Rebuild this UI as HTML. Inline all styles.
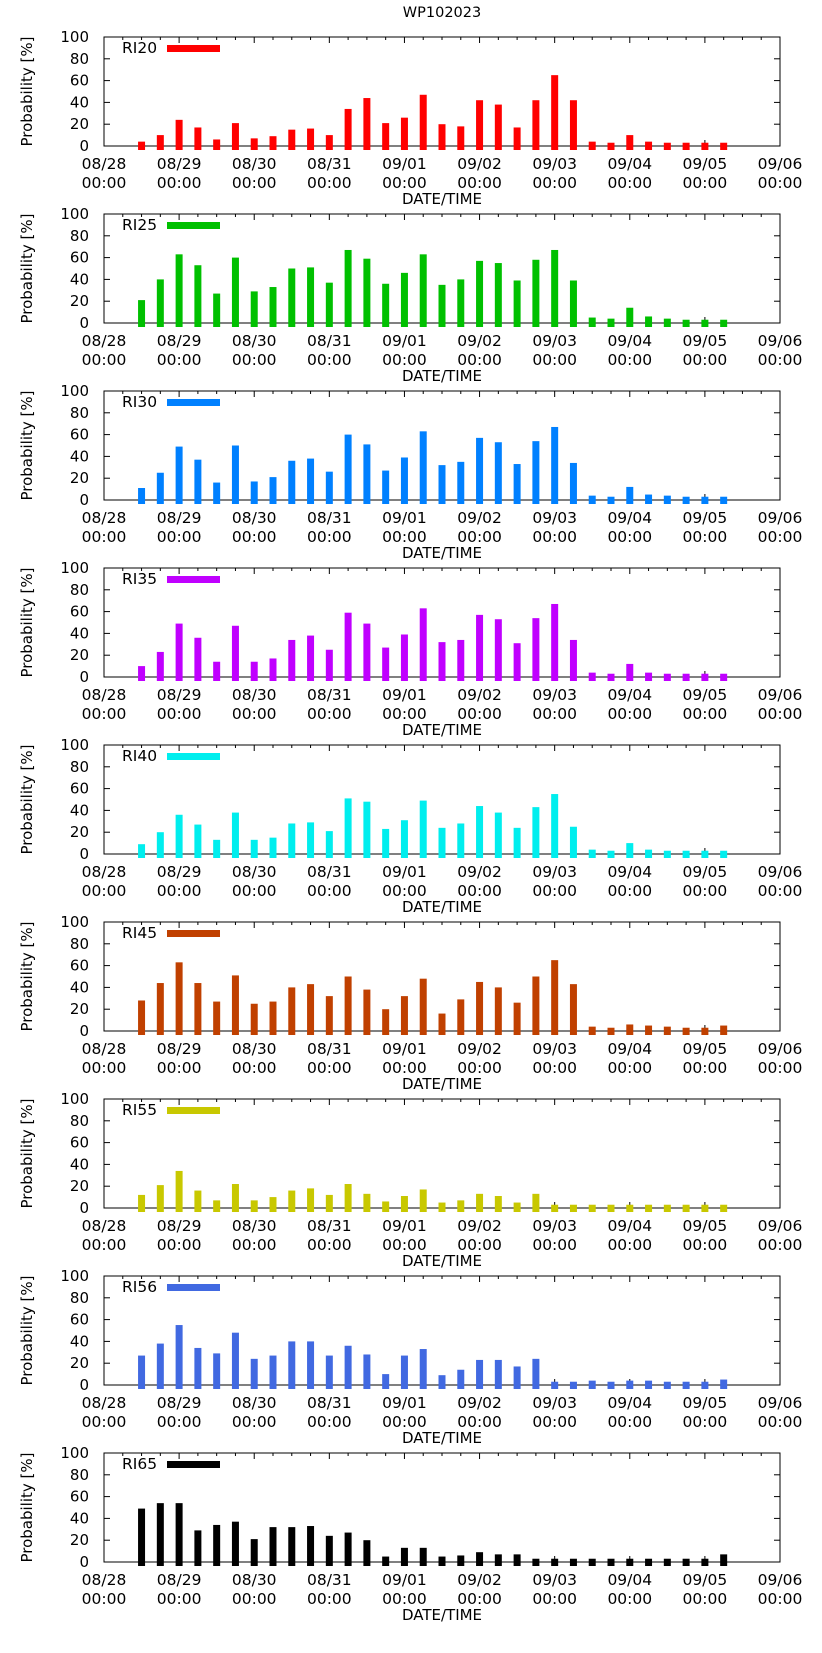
<!DOCTYPE html>
<html><head><meta charset="utf-8"><style>
html,body{margin:0;padding:0;background:#fff;}
svg{display:block;font-family:"DejaVu Sans","Liberation Sans",sans-serif;}
</style></head><body>
<svg id="chart" width="822" height="1653" viewBox="0 0 822 1653" xmlns="http://www.w3.org/2000/svg">
<text x="442" y="17" font-size="14.5" text-anchor="middle">WP102023</text>
</svg>
<script>
const seriesNames = ["RI20","RI25","RI30","RI35","RI40","RI45","RI55","RI56","RI65"];
const seriesColors = ["#ff0000","#00c000","#0080ff","#c000ff","#00eeee","#c04000","#c8c800","#4169e1","#000000"];
const dayTicks = ["08/28","08/29","08/30","08/31","09/01","09/02","09/03","09/04","09/05","09/06"];
const yTicks = [0,20,40,60,80,100];
const barDays = [0.5,0.75,1,1.25,1.5,1.75,2,2.25,2.5,2.75,3,3.25,3.5,3.75,4,4.25,4.5,4.75,5,5.25,5.5,5.75,6,6.25,6.5,6.75,7,7.25,7.5,7.75,8,8.25];
const ri20 = [4,10,24,17,6,21,7,9,15,16,10,34,44,21,26,47,20,18,42,38,17,42,65,42,4,3,10,4,3,3,3,3];
const ri25 = [21,40,63,53,27,60,29,33,50,51,37,67,59,36,46,63,35,40,57,55,39,58,67,39,5,4,14,6,4,3,3,3];
const ri30 = [11,25,49,37,16,50,17,21,36,38,26,60,51,27,39,63,32,35,57,53,33,54,67,34,4,3,12,5,4,3,3,3];
const ri35 = [10,23,49,36,14,47,14,17,34,38,25,59,49,27,39,63,32,34,57,53,31,54,67,34,4,3,12,4,3,3,3,3];
const ri40 = [9,20,36,27,13,38,13,15,28,29,21,51,48,23,31,49,24,28,44,38,24,43,55,25,4,3,10,4,3,3,3,3];
const ri45 = [28,44,63,44,27,51,25,27,40,43,32,50,38,20,32,48,16,29,45,40,26,50,65,43,4,3,6,5,4,3,3,5];
const ri55 = [12,21,34,16,7,22,7,10,16,18,12,22,13,6,11,17,5,7,13,11,5,13,3,3,3,3,3,3,3,3,3,3];
const ri56 = [27,38,55,34,29,48,24,27,40,40,27,36,28,10,27,33,9,14,23,23,17,24,3,3,4,3,4,4,3,3,3,5];
const ri65 = [49,54,54,29,34,37,21,32,32,33,24,27,20,5,13,13,5,6,9,7,7,3,3,3,3,3,3,3,3,3,3,7];
const allSeries = [ri20,ri25,ri30,ri35,ri40,ri45,ri55,ri56,ri65];

const NS="http://www.w3.org/2000/svg";
const svg=document.getElementById('chart');
const L=104,R=780,PH=109,TOP0=37,STEP=177;
function mk(tag,attrs,parent){const e=document.createElementNS(NS,tag);for(const k in attrs)e.setAttribute(k,attrs[k]);(parent||svg).appendChild(e);return e;}
const xs=d=>L+(R-L)*d/9;
function txt(x,y,str,size,anchor,g){
  const t=mk('text',{x:x,y:y,'font-size':size,'text-anchor':anchor},g);
  t.textContent=str;return t;
}

allSeries.forEach((vals,p)=>{
  const top=TOP0+p*STEP, bot=top+PH;
  const ys=v=>bot-PH*v/100;
  const g=mk('g',{});
  
  
  const fr=mk('rect',{x:L,y:top,width:R-L,height:PH,fill:'none',stroke:'#000','stroke-width':1},g);
  
  
  yTicks.forEach(t=>{
    const y=ys(t);
    mk('line',{x1:L,x2:L+6,y1:y,y2:y,stroke:'#000'},g);
    mk('line',{x1:R,x2:R-6,y1:y,y2:y,stroke:'#000'},g);
    const tx=txt(L-15,y+5,String(t),15,'end',g);
    
    
  });
  for(let q=1;q<36;q++){
    if(q%4===0) continue;
    const x=xs(q/4);
    mk('line',{x1:x,x2:x,y1:top,y2:top+3,stroke:'#000'},g);
  }
  dayTicks.forEach((d,i)=>{
    const x=xs(i);
    mk('line',{x1:x,x2:x,y1:bot,y2:bot-6,stroke:'#000'},g);
    mk('line',{x1:x,x2:x,y1:top,y2:top+6,stroke:'#000'},g);
    const t1=txt(x,bot+23,d,15.5,'middle',g);
    
    
    const t2=txt(x,bot+42,'00:00',15.5,'middle',g);
    
    
  });
  vals.forEach((v,i)=>{
    const x=xs(barDays[i]);
    const b=mk('rect',{x:x-3.5,y:ys(v),width:7,height:bot+4-ys(v),fill:seriesColors[p]},g);
    
    
  });
  const xl=txt(442,bot+58,'DATE/TIME',15,'middle',g);
  
  
  const yl=mk('text',{x:0,y:0,'font-size':15,'text-anchor':'middle',transform:`translate(32,${top+PH/2}) rotate(-90)`},g);
  yl.textContent='Probability [%]';
  
  
  const lt=txt(122,top+16,seriesNames[p],15.5,'start',g);
  
  
  const ls=mk('rect',{x:167,y:top+8,width:53,height:7,fill:seriesColors[p]},g);
  
  
});
</script>
</body></html>
